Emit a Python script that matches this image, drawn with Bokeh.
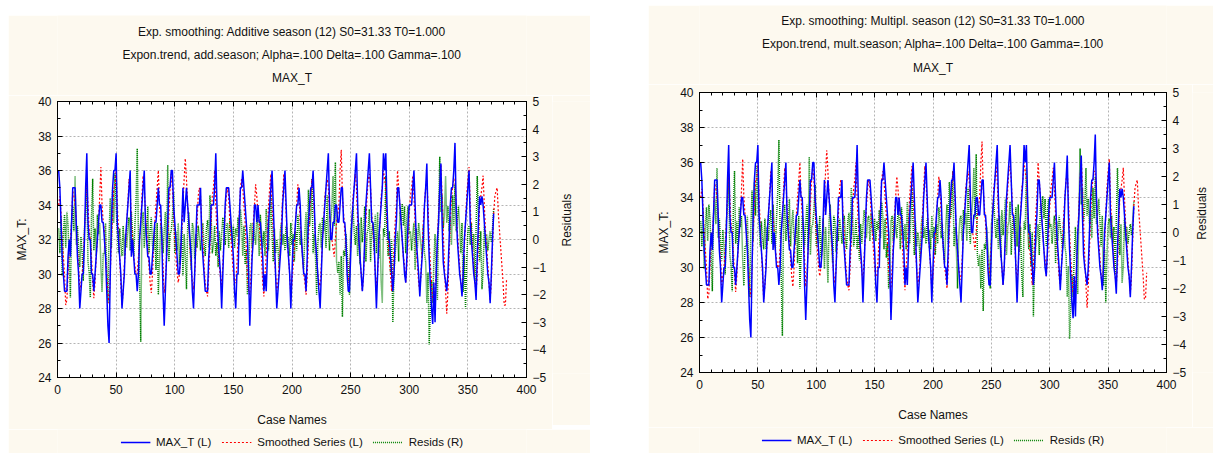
import math
import numpy as np
from bokeh.plotting import figure
from bokeh.models import (Range1d, LinearAxis, SingleIntervalTicker, Legend, LegendItem,
                          Spacer, CustomJSTickFormatter)
from bokeh.core.properties import value
from bokeh.layouts import row, column
from bokeh.embed import file_html
from bokeh.resources import INLINE

# ---------------- data ----------------
max_t = [
    36, 35, 33, 31, 30, 29, 29, 29, 31, 32, 31, 33,
    35, 35, 35, 33, 31, 30, 28, 29, 30, 30, 32, 35,
    37, 33, 32, 32, 30, 30, 29, 30, 31, 32, 33, 34,
    34, 33, 33, 32, 31, 29, 27, 26, 30, 33, 35, 36,
    36, 37, 33, 32, 31, 30, 28, 29, 30, 32, 33, 34,
    35, 36, 31, 32, 31, 30, 30, 29, 30, 32, 33, 34,
    35, 36, 33, 32, 31, 31, 30, 30, 31, 32, 33, 33,
    34, 35, 34, 34, 32, 29, 27, 29, 31, 33, 35, 35,
    36, 36, 34, 33, 32, 31, 30, 30, 31, 33, 35, 33,
    34, 35, 34, 33, 32, 31, 29, 28, 30, 32, 34, 34,
    34, 35, 32, 31, 30, 29, 29, 29, 31, 32, 34, 34,
    34, 35, 37, 34, 32, 31, 30, 28, 30, 32, 34, 35,
    35, 35, 34, 33, 32, 31, 29, 28, 30, 30, 33, 35,
    35, 36, 35, 34, 33, 32, 30, 27, 29, 31, 32, 34,
    34, 33, 34, 33, 33, 32, 31, 29, 30, 29, 31, 33,
    34, 35, 36, 34, 32, 30, 28, 29, 30, 31, 32, 34,
    35, 36, 34, 32, 31, 30, 28, 30, 32, 32, 33, 34,
    34, 35, 34, 32, 31, 30, 30, 29, 31, 33, 34, 35,
    35, 36, 34, 32, 31, 30, 29, 28, 30, 32, 33, 34,
    35, 36, 37, 34, 32, 32, 33, 33, 34, 34, 33, 33,
    34, 35, 35, 33, 33, 32, 30, 29, 29, 31, 33, 34,
    35, 36, 37, 34, 32, 31, 30, 29, 30, 32, 34, 35,
    36, 37, 35, 33, 33, 32, 30, 28, 30, 32, 33, 34,
    35, 37, 36, 37, 34, 32, 32, 31, 30, 29, 30, 32,
    33, 35, 35, 34, 33, 32, 31, 30, 29.5, 31, 33, 34,
    34, 34, 35, 36, 34, 32, 31, 30, 28.7, 30, 31, 32,
    34, 35, 36.4, 33, 31, 29.4, 28, 27.1, 29.5, 27.2, 30, 32,
    33, 35, 36.4, 33, 30.7, 30, 29.5, 29, 30, 32, 34, 35,
    35, 36, 37.6, 34, 32, 31, 30, 29.5, 28.7, 30, 32, 33,
    34, 35, 36, 33, 32, 31, 30, 29.5, 28.5, 31, 33, 34.5,
    34, 34.5, 34, 33, 32, 31, 30, 29.5, 28.3, 30, 32, 33.5,
]

smoothed = [
    34, 34.5, 33.5, 32, 31, 30, 28.2, 28.5, 30, 31.5, 32, 33,
    34.8, 34.5, 34, 33, 31.5, 30.5, 29, 29.5, 30, 31, 32.5, 34,
    35.2, 34, 32.5, 32, 31, 29.5, 28.6, 29.5, 31, 32, 33, 34.5,
    36.2, 34, 33, 32.5, 31, 30, 28.8, 28.3, 30, 32, 33.5, 35,
    35, 36, 34, 32.5, 31, 29.5, 28.2, 29, 30.5, 31.5, 33, 34,
    35.5, 35, 33, 32, 31, 30.5, 30, 30, 31, 32, 33, 34.5,
    35.7, 35, 33.5, 32.5, 31.5, 30.5, 29.5, 28.9, 30, 31.5, 33, 34,
    35, 36, 34, 33, 32, 30.5, 28.9, 29.5, 31, 32, 33.5, 35,
    35.8, 35, 33.5, 32, 31, 30, 29.5, 30, 31, 32.5, 34, 35.5,
    36.7, 35.5, 34, 33, 31.5, 30.5, 29.5, 29.1, 30, 31.5, 33, 34.5,
    35, 34.5, 33, 32, 30.5, 29.5, 29, 28.7, 30, 31.5, 33, 34.5,
    35, 36, 34, 32.5, 31.5, 30.5, 29.8, 29.3, 30.5, 32, 33.5, 34.5,
    35, 34.5, 33, 32, 31, 30, 29.5, 29.5, 30.5, 32, 33.5, 35,
    35.5, 35, 34, 33, 31.5, 30, 29, 28.8, 30, 31.5, 33, 34,
    35.2, 34.5, 33.5, 33, 32, 31, 29.5, 28.7, 30, 31, 32.5, 34,
    35, 35.8, 34, 32.5, 31, 30, 29, 29.5, 30.5, 31.5, 33, 34.5,
    35.8, 35, 33.5, 32, 31, 30, 28.7, 29.5, 30.5, 31.5, 33, 34,
    35.2, 34.5, 33, 32, 31, 30, 29.5, 28.8, 30, 32, 33.5, 34.5,
    35.5, 35, 33.5, 32, 31, 30, 29.5, 29.3, 30.5, 32, 33, 34.5,
    35, 35.5, 35, 33.5, 32.5, 32, 31.5, 31, 32, 33, 33.5, 34,
    36, 37.2, 34.5, 33.5, 32.5, 31.5, 30.5, 29.5, 30, 31.5, 33, 34.5,
    35, 35.8, 35, 33, 32, 31, 30, 29, 30, 31.5, 33, 34.5,
    35.5, 35.8, 35, 33.5, 32.5, 31.5, 30, 29.3, 30, 31.5, 33, 34.5,
    35, 36, 35.5, 35, 33, 32, 31, 30, 29, 30, 31.5, 33,
    34, 36, 35, 34, 33, 32, 31, 30.5, 29.5, 30.5, 32, 33.5,
    34.5, 35, 35.7, 34.5, 33, 31.5, 30.5, 29.5, 29, 30, 31.5, 33,
    34, 35, 35.5, 34, 32, 30.5, 29.5, 28.5, 28.5, 29, 30, 32,
    33.5, 35, 36.3, 34.5, 32.5, 30.5, 29, 27.7, 29, 31, 33, 34.5,
    35, 35.5, 35.5, 34, 32.5, 31.5, 30.5, 29.5, 29, 30, 31.5, 33,
    34.5, 35.5, 36.2, 34, 32.5, 31.5, 30.5, 29.5, 29, 30, 32, 34,
    34.5, 35, 35.7, 34, 32.5, 31.5, 30.5, 29.5, 28.5, 29.5, 31.5, 33.5,
    34.5, 34.8, 35, 33.5, 32.5, 31.5, 30.5, 29.5, 28.2, 28.2, 29.7,
]

resids = [
    0.4, -0.5, 0.8, -1.3, 0.2, 0.9, -0.3, 1.0, 0.5, -0.8, -2.1, 0.6,
    1.2, 0.3, 2.3, -0.2, 0.5, -0.3, -1.0, 0.1, -0.5, -1.5, 0.4, 1.0,
    2.1, -0.8, -1.2, -2.1, 0.8, 2.2, -0.4, 0.4, -0.6, 0.9, 0.2, 0.6,
    -1.0, -1.9, -0.5, -0.5, 0.6, -1.2, -2.3, 0.2, 1.5, -0.3, 1.8, 0.6,
    2.4, 1.2, 0.3, -0.5, 0.4, -0.2, -0.6, 0.5, -0.6, 0.2, -0.3, 0.4,
    0.8, -0.4, 1.0, 0.2, -0.6, 0.5, 1.4, 3.3, 0.2, -1.5, -3.7, 0.5,
    1.0, -0.3, 0.6, 0.1, 1.2, -0.5, 0.3, 0.8, -0.2, -0.4, 0.5, -1.1,
    0.6, -2.0, -0.8, 0.6, 0.4, -0.5, 0.3, 1.0, -0.6, 2.7, -0.8, 0.2,
    0.3, 0.8, 1.7, -0.5, 0.3, -0.4, 0.6, -0.9, -0.2, 0.5, -1.3, 0.2,
    -0.6, -1.8, 0.4, 1.0, -0.3, -1.1, 0.6, 0.4, -0.7, 0.2, -0.3, 0.5,
    0.1, -0.4, 0.3, 0.6, -0.2, -0.6, 0.4, 0.7, -0.3, 1.6, 0.9, -0.5,
    -0.2, 0.5, -0.6, -0.1, -1.0, 0.3, -0.4, 0.2, 0.8, 0.3, -0.2, 0.5,
    0.6, -0.3, 0.7, 0.2, -0.1, 0.5, -0.3, 0.4, 0.1, 0.8, -0.2, 1.1,
    0.6, -0.6, 0.5, -0.9, -0.4, -2.0, -1.4, 0.4, 0.6, -0.3, 0.6, 0.2,
    -0.2, 0.8, 0.5, -0.6, 0.9, 0.3, -0.3, 0.3, -0.6, 1.1, 0.2, -0.4,
    0.5, 1.6, 0.2, -0.8, 0.4, -0.5, 0.0, -0.3, -1.0, 0.3, 0.6, -0.2,
    0.2, -0.4, 0.5, -0.3, 0.1, -0.6, 0.6, -0.2, 0.2, -0.8, 0.3, -0.4,
    0.9, 0.4, -0.2, 0.3, -0.6, -1.1, 0.3, 1.0, -0.4, 1.8, 0.5, 0.9,
    2.2, -0.5, 0.2, -0.6, -2.0, -0.2, 0.5, 0.6, -0.3, 0.8, 0.3, 0.7,
    -0.3, 1.6, 0.2, -0.4, 0.6, 1.2, 2.3, 0.5, 2.8, -0.8, -1.2, -0.8,
    -2.0, -0.6, -2.8, -0.4, -0.6, 0.2, -0.5, -1.0, -2.0, 0.3, 0.6, 1.2,
    0.3, -0.2, 0.5, -0.6, 0.6, -0.9, 0.8, -0.1, 0.4, 1.2, -0.8, 0.2,
    0.4, 1.1, -0.8, 0.3, 0.6, -0.4, 0.9, -0.5, 1.0, -0.7, 0.2, -1.5,
    -2.3, 0.4, 0.1, 2.3, 0.2, -0.6, 0.3, -1.2, 0.0, -3.0, -1.2, -0.5,
    -0.1, 0.3, -0.8, 1.0, 0.7, 1.3, 0.5, 1.2, -0.5, 0.8, 1.2, 0.2,
    0.3, -0.4, 0.2, 0.6, -1.1, 0.4, -0.3, 0.6, 0.2, -0.2, -0.6, 0.5,
    -0.5, -0.8, -2.3, -1.2, -3.8, -2.6, -1.5, -2.3, -0.8, 0.2, -1.2, -2.2,
    0.8, 3.0, 1.0, 1.6, 0.4, 0.9, 2.3, 0.6, 1.2, 0.3, 0.8, -0.2,
    1.6, 0.5, 2.0, 0.3, 0.7, 1.2, 0.4, -0.5, 0.6, -1.9, -0.6, -2.5,
    -0.8, 0.3, 0.5, -0.2, 0.6, -0.4, 0.2, -1.5, 0.4, 2.3, 0.8, -0.8,
    0.3, -1.8, -1.2, 0.5, -0.3, 0.2, -0.4, 0.0, 0.3, -0.1, 0.4, 1.1,
]

case_t = list(range(1, len(max_t) + 1))
case_s = list(range(1, len(smoothed) + 1))
case_r = list(range(1, len(resids) + 1))

titles_left = ["Exp. smoothing: Additive season (12) S0=31.33 T0=1.000",
               "Expon.trend, add.season; Alpha=.100 Delta=.100 Gamma=.100",
               "MAX_T"]
titles_right = ["Exp. smoothing: Multipl. season (12) S0=31.33 T0=1.000",
                "Expon.trend, mult.season; Alpha=.100 Delta=.100 Gamma=.100",
                "MAX_T"]
legend_labels = ["MAX_T (L)", "Smoothed Series (L)", "Resids (R)"]

CREAM = "#fdf9ef"
FONT = "Liberation Sans"
TXT = "#111111"
BLUE, RED, GREEN = "#0000ff", "#ff0000", "#008000"
BLUE_W, RED_W, GREEN_W = 1.5, 1.2, 1.5
RED_DASH, GREEN_DASH = "2 2", "1 1"


def blank_fig(width, height, mbl=0, mbr=0):
    f = figure(width=width, height=height, title=None,
               x_range=Range1d(0, width - mbl - mbr), y_range=Range1d(0, height),
               output_backend="svg", toolbar_location=None,
               min_border_left=mbl, min_border_right=mbr,
               min_border_top=0, min_border_bottom=0,
               border_fill_color=CREAM, background_fill_color=CREAM,
               outline_line_color=None)
    f.axis.visible = False
    f.grid.visible = False
    return f


def style_axis(ax, size="12px"):
    ax.major_label_text_font = FONT
    ax.major_label_text_font_size = size
    ax.major_label_text_color = TXT
    ax.axis_label_text_font = FONT
    ax.axis_label_text_font_size = "12px"
    ax.axis_label_text_font_style = "normal"
    ax.axis_label_text_color = TXT
    ax.axis_line_color = "black"
    ax.major_tick_line_color = "black"
    ax.minor_tick_line_color = "black"
    ax.major_tick_in = 5
    ax.major_tick_out = 0
    ax.minor_tick_in = 3
    ax.minor_tick_out = 0


def title_fig(titles, width, height, mbl, mbr, ys):
    f = blank_fig(width, height, mbl, mbr)
    cx = (width - mbl - mbr) / 2
    f.text(x=[cx] * 3, y=ys, text=titles, text_align="center",
           text_baseline="middle", text_font=value(FONT),
           text_font_size="12px", text_color=TXT)
    return f


def res_fig(width, height, x, y):
    f = blank_fig(width, height)
    f.text(x=[x], y=[y], text=["Residuals"], angle=math.pi / 2,
           text_align="center", text_baseline="middle", text_font=value(FONT),
           text_font_size="12px", text_color=TXT)
    return f


def panel(fw, fh, mbl, mbr, mbt, mbb):
    p = figure(frame_width=fw, frame_height=fh, title=None,
               x_range=Range1d(0, 400), y_range=Range1d(24, 40),
               output_backend="svg", toolbar_location=None,
               min_border_left=mbl, min_border_right=mbr,
               min_border_top=mbt, min_border_bottom=mbb,
               border_fill_color=CREAM, background_fill_color="white",
               outline_line_color="black")
    p.extra_y_ranges = {"r": Range1d(-5, 5)}

    xt = SingleIntervalTicker(interval=50, num_minor_ticks=5)
    yt = SingleIntervalTicker(interval=2, num_minor_ticks=2)
    rt = SingleIntervalTicker(interval=1, num_minor_ticks=2)
    p.xaxis.ticker = xt
    p.yaxis.ticker = yt
    p.xgrid.ticker = xt
    p.ygrid.ticker = yt
    p.xaxis.axis_label = "Case Names"
    p.yaxis.axis_label = "MAX_T:"
    for ax in p.xaxis + p.yaxis:
        style_axis(ax)
    p.xaxis.major_label_standoff = 7
    p.xaxis.axis_label_standoff = 16
    p.yaxis.major_label_standoff = 6
    p.yaxis.axis_label_standoff = 6

    for g in (p.xgrid[0], p.ygrid[0]):
        g.grid_line_color = "#b4b4b4"
        g.grid_line_dash = "2 2"
        g.grid_line_width = 1

    rax = LinearAxis(y_range_name="r", ticker=rt)
    style_axis(rax)
    rax.major_label_standoff = 6
    p.add_layout(rax, "right")

    top = LinearAxis(ticker=SingleIntervalTicker(interval=50, num_minor_ticks=5),
                     formatter=CustomJSTickFormatter(code="return ''"))
    style_axis(top)
    top.major_label_standoff = 0
    p.add_layout(top, "above")

    p.line(case_r, resids, color=GREEN, line_width=GREEN_W, line_dash=GREEN_DASH,
           y_range_name="r")
    p.line(case_s, smoothed, color=RED, line_width=RED_W, line_dash=RED_DASH)
    p.line(case_t, max_t, color=BLUE, line_width=BLUE_W)
    return p


def legend_fig(width, height, mbl, mbr):
    f = blank_fig(width, height, mbl, mbr)
    nan = np.array([np.nan])
    b = f.line(nan, nan, color=BLUE, line_width=BLUE_W)
    r = f.line(nan, nan, color=RED, line_width=RED_W, line_dash=RED_DASH)
    g = f.line(nan, nan, color=GREEN, line_width=GREEN_W, line_dash=GREEN_DASH)
    leg = Legend(items=[LegendItem(label=legend_labels[0], renderers=[b]),
                        LegendItem(label=legend_labels[1], renderers=[r]),
                        LegendItem(label=legend_labels[2], renderers=[g])],
                 orientation="horizontal", location="center",
                 background_fill_alpha=0, border_line_alpha=0,
                 label_text_font=FONT, label_text_font_size="11.5px",
                 label_text_color=TXT, glyph_width=30, glyph_height=14,
                 label_height=14, label_standoff=6, spacing=10,
                 padding=0, margin=0)
    f.add_layout(leg, "center")
    return f


# left panel: x 8..590, y 15..450
tf1 = title_fig(titles_left, 582, 80, 49, 64, [64, 41, 18])
p1 = panel(469, 276, 49, 26, 6, 48)
rf1 = res_fig(38, 330, 14, 186)
l1 = legend_fig(582, 25, 49, 64)

# right panel: x 648..1213, y 5..453
tf2 = title_fig(titles_right, 565, 79, 51, 47, [64, 41, 17])
p2 = panel(467, 280, 51, 26, 8, 55)
rf2 = res_fig(21, 343, 9, 195)
l2 = legend_fig(565, 26, 51, 47)

left = column(Spacer(height=15), tf1, row(p1, rf1), l1)
right = column(Spacer(height=5), tf2, row(p2, rf2), l2)
layout = row(Spacer(width=8), left, Spacer(width=58), right)
open("out.html", "w").write(file_html(layout, INLINE))
